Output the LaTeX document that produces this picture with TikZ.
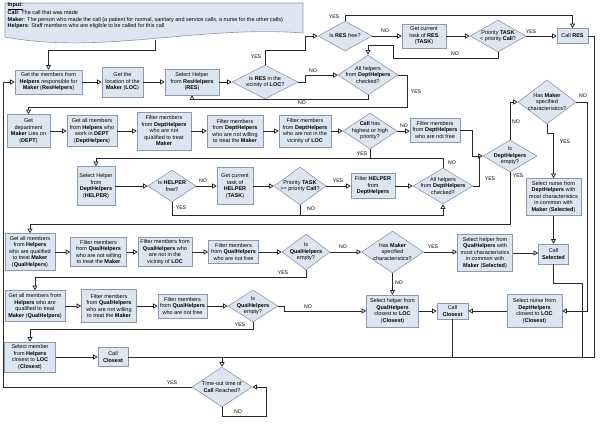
\documentclass[tikz,border=0pt]{standalone}
\usepackage{fontspec}
\setmainfont{Liberation Sans}
\usetikzlibrary{arrows.meta,shapes.geometric}
\definecolor{boxfill}{RGB}{220,230,242}
\definecolor{boxline}{RGB}{140,152,172}
\definecolor{ln}{RGB}{40,40,40}
\begin{document}
\begin{tikzpicture}[x=1pt,y=-1pt,
  font=\fontsize{5.5}{6.5}\selectfont,
  box/.style={draw=boxline, fill=boxfill, line width=0.6pt, align=center, inner sep=0.5pt},
  dia/.style={diamond, draw=boxline, fill=boxfill, line width=0.6pt, inner sep=0pt},
  dtext/.style={align=center, inner sep=0pt},
  conn/.style={draw=ln, line width=0.75pt},
  arr/.style={conn, -{Triangle[length=4.5pt,width=5pt,fill=white]}},
  lab/.style={inner sep=0.5pt, font=\fontsize{5.2}{6}\selectfont}]
\useasboundingbox (0,0) rectangle (600,424);

% ---------- input document ----------
\path[draw=boxline, fill=boxfill, line width=0.6pt] (5,3) -- (303,3) -- (303,33)
  .. controls (200,25) and (100,55) .. (5,37) -- cycle;
\node[anchor=north west, align=left, inner sep=0pt] (inp) at (7.5,2.6)
  {\underline{\textbf{Input:}}\\
   \textbf{Call}: The call that was made\\
   \textbf{Maker}: The person who made the call (a patient for normal, sanitary and service calls, a nurse for the other calls)\\
   \textbf{Helpers}: Staff members who are eligible to be called for this call};
\coordinate (inb) at (155,39.5);
\coordinate (J) at (222,357);

% ---------- row 1 ----------
\node[box, minimum width=67pt, minimum height=24pt] (n1) at (48.5,82) {Get the members from\\\textbf{Helpers} responsible for\\\textbf{Maker} (\textbf{ResHelpers})};
\node[box, minimum width=41pt, minimum height=30pt] (n2) at (122.5,82) {Get the\\location of the\\\textbf{Maker} (\textbf{LOC})};
\node[box, minimum width=54pt, minimum height=26pt] (n3) at (192,82) {Select Helper\\from \textbf{ResHelpers}\\(\textbf{RES})};
\node[dia, minimum width=66pt, minimum height=34pt] (d1) at (265,82) {};
\node[dtext] (d1t) at (d1) {Is \textbf{RES} in the\\vicinity of \textbf{LOC}?};
\node[dia, minimum width=54pt, minimum height=30pt] (d2) at (345,36) {};
\node[dtext] (d2t) at (d2) {Is \textbf{RES} free?};
\node[box, minimum width=44pt, minimum height=24pt] (n4) at (424,36) {Get current\\task of \textbf{RES}\\(\textbf{TASK})};
\node[dia, minimum width=56pt, minimum height=32pt] (d4) at (498,36) {};
\node[dtext] (d4t) at (d4) {Priority \textbf{TASK}\\< priority \textbf{Call}?};
\node[box, minimum width=31pt, minimum height=15pt] (cres) at (572.5,36) {Call \textbf{RES}};
\node[dia, minimum width=60pt, minimum height=40pt] (d3) at (368,75) {};
\node[dtext] (d3t) at (d3) {All helpers\\from \textbf{DeptHelpers}\\checked?};

% ---------- row 2 ----------
\node[box, minimum width=43pt, minimum height=33pt] (n5) at (28.5,131) {Get\\department\\\textbf{Maker} Lies on\\(\textbf{DEPT})};
\node[box, minimum width=50pt, minimum height=31pt] (n6) at (92,131) {Get all members\\from \textbf{Helpers} who\\work in \textbf{DEPT}\\(\textbf{DeptHelpers})};
\node[box, minimum width=54pt, minimum height=38pt] (n7) at (164,131) {Filter members\\from \textbf{DeptHelpers}\\who are not\\qualified to treat\\\textbf{Maker}};
\node[box, minimum width=56pt, minimum height=32pt] (n8) at (235,131) {Filter members\\from \textbf{DeptHelpers}\\who are not willing\\to treat the \textbf{Maker}};
\node[box, minimum width=52pt, minimum height=32pt] (n9) at (305,131) {Filter members\\from \textbf{DeptHelpers}\\who are not in the\\vicinity of \textbf{LOC}};
\node[dia, minimum width=54pt, minimum height=36pt] (d5) at (370,131) {};
\node[dtext] (d5t) at (d5) {\textbf{Call} has\\highest or high\\priority?};
\node[box, minimum width=50pt, minimum height=24pt] (n10) at (435,130) {Filter members\\from \textbf{DeptHelpers}\\who are not free};
\node[dia, minimum width=58pt, minimum height=44pt] (hm) at (547,102) {};
\node[dtext] (hmt) at (hm) {Has \textbf{Maker}\\specified\\characteristics?};
\node[dia, minimum width=54pt, minimum height=32pt] (d6) at (510,156) {};
\node[dtext] (d6t) at (d6) {Is\\\textbf{DeptHelpers}\\empty?};
\node[box, minimum width=55pt, minimum height=37pt] (nsel) at (553.5,197) {Select nurse from\\\textbf{DeptHelpers} with\\most characteristics\\in common with\\\textbf{Maker} (\textbf{Selected})};
\node[box, minimum width=30pt, minimum height=20pt] (csel) at (553.5,254) {Call\\\textbf{Selected}};

% ---------- row 3 ----------
\node[box, minimum width=38pt, minimum height=39pt] (n11) at (96,186) {Select Helper\\from\\\textbf{DeptHelpers}\\(\textbf{HELPER})};
\node[dia, minimum width=48pt, minimum height=32pt] (d7) at (172,186) {};
\node[dtext] (d7t) at (d7) {Is \textbf{HELPER}\\free?};
\node[box, minimum width=36pt, minimum height=37pt] (n12) at (235,186) {Get current\\task of\\\textbf{HELPER}\\(\textbf{TASK})};
\node[dia, minimum width=52pt, minimum height=38pt] (d9) at (300,186) {};
\node[dtext] (d9t) at (d9) {Priority \textbf{TASK}\\>= priority \textbf{Call}?};
\node[box, minimum width=44pt, minimum height=25pt] (n13) at (373,186) {Filter \textbf{HELPER}\\from\\\textbf{DeptHelpers}};
\node[dia, minimum width=60pt, minimum height=36pt] (d8) at (443,186) {};
\node[dtext] (d8t) at (d8) {All helpers\\from \textbf{DeptHelpers}\\checked?};

% ---------- row 4 ----------
\node[box, minimum width=50pt, minimum height=37pt] (n14) at (30,252) {Get all members\\from \textbf{Helpers}\\who are qualified\\to treat \textbf{Maker}\\(\textbf{QualHelpers})};
\node[box, minimum width=56pt, minimum height=29pt] (n15) at (98.5,252) {Filter members\\from \textbf{QualHelpers}\\who are not willing\\to treat the \textbf{Maker}};
\node[box, minimum width=54pt, minimum height=29pt] (n16) at (165,252) {Filter members from\\\textbf{QualHelpers} who\\are not in the\\vicinity of \textbf{LOC}};
\node[box, minimum width=50pt, minimum height=23pt] (n17) at (233.5,252) {Filter members\\from \textbf{QualHelpers}\\who are not free};
\node[dia, minimum width=48pt, minimum height=36pt] (d10) at (306,252) {};
\node[dtext] (d10t) at (d10) {Is\\\textbf{QualHelpers}\\empty?};
\node[dia, minimum width=62pt, minimum height=42pt] (d11) at (392.5,252) {};
\node[dtext] (d11t) at (d11) {Has \textbf{Maker}\\specified\\characteristics?};
\node[box, minimum width=55pt, minimum height=37pt] (n19) at (485,253) {Select helper from\\\textbf{QualHelpers} with\\most characteristics\\in common with\\\textbf{Maker} (\textbf{Selected})};

% ---------- row 5 ----------
\node[box, minimum width=60pt, minimum height=31pt] (n18) at (35,306) {Get all members from\\\textbf{Helpers} who are\\qualified to treat\\\textbf{Maker} (\textbf{QualHelpers})};
\node[box, minimum width=55pt, minimum height=33pt] (n21) at (109,306) {Filter members\\from \textbf{QualHelpers}\\who are not willing\\to treat the \textbf{Maker}};
\node[box, minimum width=49pt, minimum height=24pt] (n22) at (182.5,306) {Filter members\\from \textbf{QualHelpers}\\who are not free};
\node[dia, minimum width=50pt, minimum height=32pt] (d12) at (253,306) {};
\node[dtext] (d12t) at (d12) {Is\\\textbf{QualHelpers}\\empty?};
\node[box, minimum width=52pt, minimum height=32pt] (n20) at (392.5,311) {Select helper from\\\textbf{QualHelpers}\\closest to \textbf{LOC}\\(\textbf{Closest})};
\node[box, minimum width=31pt, minimum height=16pt] (c2) at (452.5,311) {Call\\\textbf{Closest}};
\node[box, minimum width=55pt, minimum height=33pt] (nnc) at (534.5,311) {Select nurse from\\\textbf{DeptHelpers}\\closest to \textbf{LOC}\\(\textbf{Closest})};

% ---------- row 6 ----------
\node[box, minimum width=51pt, minimum height=30pt] (n23) at (30,357) {Select member\\from \textbf{Helpers}\\closest to \textbf{LOC}\\(\textbf{Closest})};
\node[box, minimum width=30pt, minimum height=19pt] (c1) at (113,357) {Call\\\textbf{Closest}};
\node[dia, minimum width=60pt, minimum height=40pt] (d13) at (222,387) {};
\node[dtext] (d13t) at (d13) {Time-out time of\\\textbf{Call} Reached?};

% ---------- connectors ----------
\draw[arr] (inb) -- (155,50) -| (n1.north);
\draw[arr] (d13.west) -- (3,387) |- (n1.west);
\draw[arr] (n1) -- (n2);
\draw[arr] (n2) -- (n3);
\draw[arr] (n3) -- (d1);
\draw[arr] (d1.north) |- (305,50) |- (d2.west);
\draw[arr] (d1.east) -- ++(7,0) |- (d3.west);
\draw[arr] (d2.east) -- (n4.west);
\draw[arr] (d2.north) -- (345,15) -| (cres.north);
\draw[arr] (n4.east) -- (d4.west);
\draw[arr] (d4.east) -- (cres.west);
\draw[arr] (d4.south) |- (393,58) |- (368,45) -- (d3.north);
\draw[arr] (d3.south) -- (368,99) -| (n3.south);
\draw[arr] (d3.east) -- (407,75) |- (28.5,107) -- (n5.north);

\draw[arr] (n5) -- (n6);
\draw[arr] (n6) -- (n7);
\draw[arr] (n7) -- (n8);
\draw[arr] (n8) -- (n9);
\draw[arr] (n9) -- (d5);
\draw[arr] (d5.east) -- (d5.east -| n10.west);
\draw[conn] (d5.south) -- (370,158);
\draw[arr] (d8.north) -- (443,158) -| (n11.north);
\draw[arr] (n10.east) -- (472,130) |- (d6.west);
\draw[conn] (d8.east) -| (479,156);
\draw[arr] (d6.north) |- (hm.west);
\draw[arr] (hm.east) -- (587,102) |- (nnc.east);
\draw[arr] (hm.south) -- (547,133) -| (nsel.north);
\draw[arr] (nsel.south) -- (csel.north);
\draw[conn] (csel.south) -- (553.5,283) -| (582,357);
\draw[conn] (cres.east) -| (594,357) -- (J);
\draw[arr] (J) -- (d13.north);
\draw[arr] (d6.south) -- (510,224) -| (n14.north);

\draw[arr] (n11) -- (d7);
\draw[arr] (d7) -- (n12);
\draw[arr] (n12) -- (d9);
\draw[arr] (d9) -- (n13);
\draw[arr] (n13) -- (d8);
\draw[arr] (d7.south) -- (172,215) -| (d8.south);
\draw[conn] (d9.south) -- (300,215);

\draw[arr] (n14) -- (n15);
\draw[arr] (n15) -- (n16);
\draw[arr] (n16) -- (n17);
\draw[arr] (n17) -- (d10);
\draw[arr] (d10) -- (d11);
\draw[arr] (d11.east) -- (d11.east -| n19.west);
\draw[arr] (n19.east) -- (n19.east -| csel.west);
\draw[arr] (d11.south) -- (n20.north);
\draw[arr] (d10.south) -- (306,277) -| (n18.north);

\draw[arr] (n18) -- (n21);
\draw[arr] (n21) -- (n22);
\draw[arr] (n22) -- (d12);
\draw[arr] (d12.east) -- ++(6,0) |- (n20.west);
\draw[arr] (d12.south) -- (253,329) -| (n23.north);
\draw[arr] (n20) -- (c2);
\draw[arr] (nnc) -- (c2);
\draw[conn] (c2.south) -- (452.5,357);
\draw[arr] (n23) -- (c1);
\draw[conn] (c1.east) -- (J);
\draw[arr] (d13.south) -- (222,416) -- (266,416) -- (266,387) -- (d13.east);

% ---------- labels ----------
\node[lab] (l1) at (172,383) {YES};
\node[lab] (l2) at (256,57) {YES};
\node[lab] (l3) at (313,71) {NO};
\node[lab] (l4) at (385,31) {NO};
\node[lab] (l5) at (334,17) {YES};
\node[lab] (l6) at (531,32) {YES};
\node[lab] (l7) at (455,54) {NO};
\node[lab] (l8) at (302,103) {NO};
\node[lab] (l9) at (416,92) {YES};
\node[lab] (l10) at (404,126) {NO};
\node[lab] (l11) at (362,154) {YES};
\node[lab] (l12) at (516,122) {NO};
\node[lab] (l13) at (518,176) {YES};
\node[lab] (l14) at (583,96) {NO};
\node[lab] (l15) at (565,142) {YES};
\node[lab] (l16) at (203,181) {NO};
\node[lab] (l17) at (181,208) {YES};
\node[lab] (l18) at (338,181) {YES};
\node[lab] (l19) at (311,209) {NO};
\node[lab] (l20) at (452,163) {NO};
\node[lab] (l21) at (490,179) {YES};
\node[lab] (l22) at (343,247) {NO};
\node[lab] (l23) at (433,247) {YES};
\node[lab] (l24) at (399,283) {NO};
\node[lab] (l25) at (283,273) {YES};
\node[lab] (l26) at (308,307) {NO};
\node[lab] (l27) at (240,325) {YES};
\node[lab] (l28) at (238,412) {NO};
\end{tikzpicture}
\end{document}
